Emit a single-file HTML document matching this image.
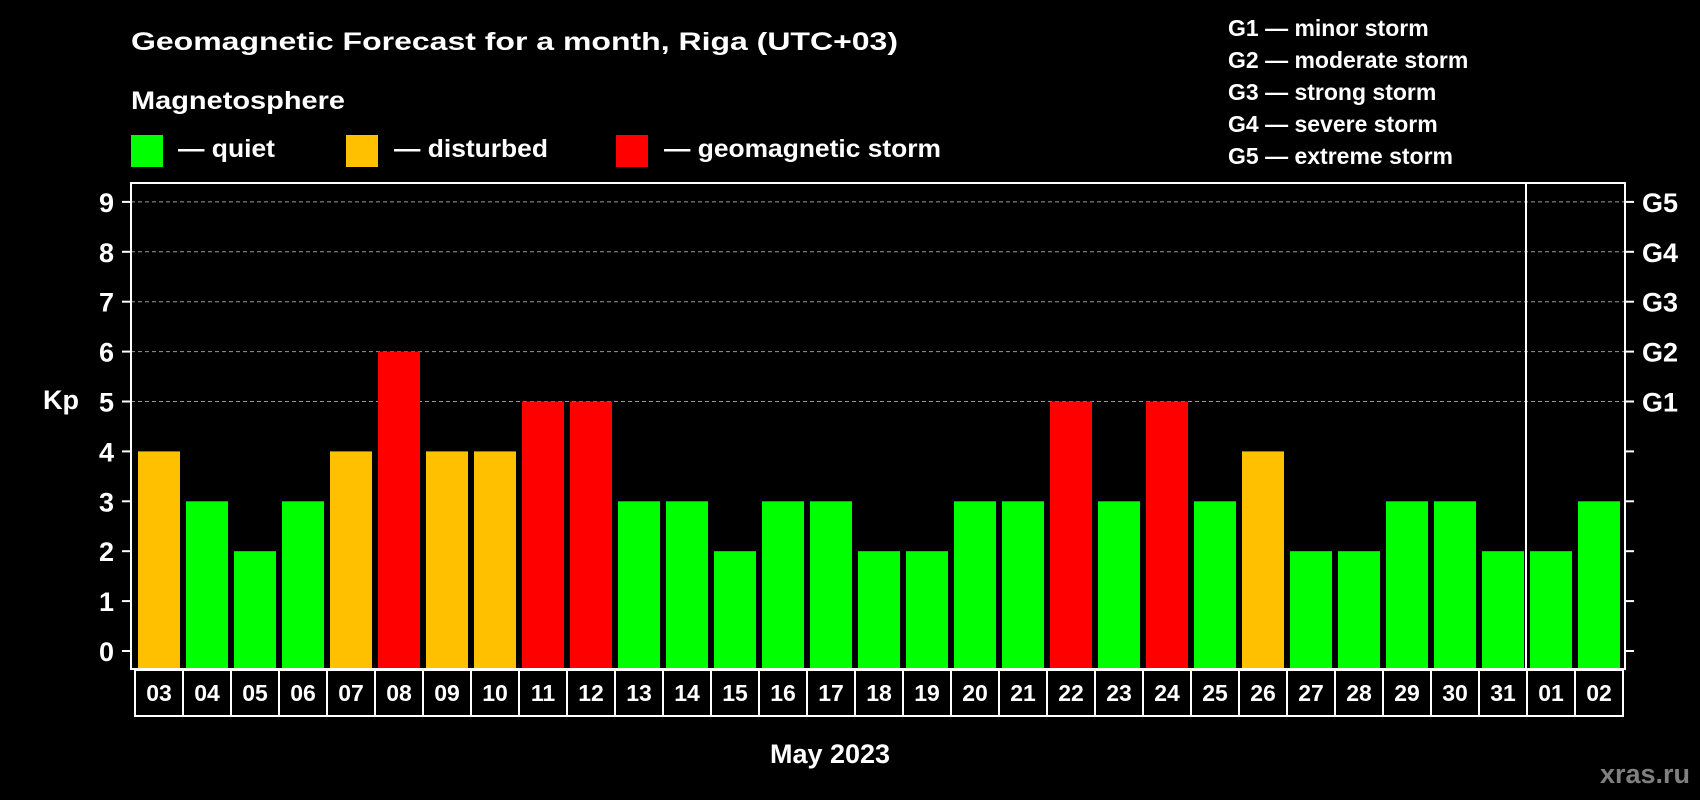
<!DOCTYPE html>
<html><head><meta charset="utf-8"><style>
html,body{margin:0;padding:0;background:#000;}
svg{display:block;font-family:"Liberation Sans",sans-serif;font-weight:bold;}
</style></head><body>
<svg id="chart" width="1700" height="800" viewBox="0 0 1700 800" xmlns="http://www.w3.org/2000/svg">
<rect width="1700" height="800" fill="#000"/>
<text x="131" y="50" fill="#fff" font-size="25" font-family="Liberation Sans Narrow, Liberation Sans, sans-serif" textLength="767" lengthAdjust="spacingAndGlyphs">Geomagnetic Forecast for a month, Riga (UTC+03)</text>
<text x="131" y="109" fill="#fff" font-size="25" font-family="Liberation Sans Narrow, Liberation Sans, sans-serif" textLength="214" lengthAdjust="spacingAndGlyphs">Magnetosphere</text>
<g>
<rect x="131" y="135" width="32" height="32" fill="#00ff00"/>
<text x="178" y="157" fill="#fff" font-size="25" font-family="Liberation Sans Narrow, Liberation Sans, sans-serif" textLength="97" lengthAdjust="spacingAndGlyphs">— quiet</text></g>
<g>
<rect x="346" y="135" width="32" height="32" fill="#ffc000"/>
<text x="394" y="157" fill="#fff" font-size="25" font-family="Liberation Sans Narrow, Liberation Sans, sans-serif" textLength="154" lengthAdjust="spacingAndGlyphs">— disturbed</text></g>
<g>
<rect x="616" y="135" width="32" height="32" fill="#ff0000"/>
<text x="664" y="157" fill="#fff" font-size="25" font-family="Liberation Sans Narrow, Liberation Sans, sans-serif" textLength="277" lengthAdjust="spacingAndGlyphs">— geomagnetic storm</text></g>
<g fill="#fff" font-size="23">
<text x="1228" y="36">G1 — minor storm</text>
<text x="1228" y="68">G2 — moderate storm</text>
<text x="1228" y="100">G3 — strong storm</text>
<text x="1228" y="132">G4 — severe storm</text>
<text x="1228" y="164">G5 — extreme storm</text>
</g>
<g id="grid"></g><g id="bars"></g><g id="axes"></g>
<text x="43" y="409" fill="#fff" font-size="27">Kp</text>
<text x="830" y="763" fill="#fff" font-size="27" text-anchor="middle">May 2023</text>
<text x="1690" y="783" fill="#808080" font-size="27" text-anchor="end">xras.ru</text>
</svg>
<script>
const days=["03","04","05","06","07","08","09","10","11","12","13","14","15","16","17","18","19","20","21","22","23","24","25","26","27","28","29","30","31","01","02"];
const kp=[4,3,2,3,4,6,4,4,5,5,3,3,2,3,3,2,2,3,3,5,3,5,3,4,2,2,3,3,2,2,3];
const yTicks=[0,1,2,3,4,5,6,7,8,9];
const gLabels=["G1","G2","G3","G4","G5"];
const gLevels=[5,6,7,8,9];
const NS="http://www.w3.org/2000/svg";
const L=131,R=1625,T=183,B=669,X0=134,STEP=48;
const y=v=>651-49.9*v;
const x=i=>X0+i*STEP;
function mk(tag,attrs,parent,text){const e=document.createElementNS(NS,tag);for(const k in attrs)e.setAttribute(k,attrs[k]);if(text!==undefined)e.textContent=text;parent.appendChild(e);return e;}
const grid=document.getElementById('grid'),bars=document.getElementById('bars'),axes=document.getElementById('axes');
gLevels.forEach((g,i)=>{
 const ln=mk('line',{x1:L,x2:R,y1:y(g),y2:y(g),stroke:'#999','stroke-width':1,'stroke-dasharray':'4,3'},grid);
 
 
 const t=mk('text',{x:1642,y:y(g)+10,fill:'#fff','font-size':27},axes,gLabels[i]);
 
 
});
kp.forEach((v,i)=>{
 const c=v>=5?'#ff0000':(v>=4?'#ffc000':'#00ff00');
 const r=mk('rect',{x:x(i)+4,y:y(v),width:42,height:B-y(v),fill:c},bars);
 
 
 const b=mk('rect',{x:x(i)+1,y:B+1,width:STEP,height:46,fill:'none',stroke:'#fff','stroke-width':2},axes);
 
 
 const t=mk('text',{x:x(i)+1+STEP/2,y:B+32,fill:'#fff','font-size':23,'text-anchor':'middle'},axes,days[i]);
 
 
});
const fr=mk('rect',{x:L,y:T,width:R-L,height:B-T,fill:'none',stroke:'#fff','stroke-width':2},axes);


const sep=mk('line',{x1:x(29),x2:x(29),y1:T,y2:B,stroke:'#fff','stroke-width':2},axes);


yTicks.forEach(v=>{
 mk('line',{x1:122,x2:L,y1:y(v),y2:y(v),stroke:'#fff','stroke-width':2},axes);
 mk('line',{x1:R,x2:1634,y1:y(v),y2:y(v),stroke:'#fff','stroke-width':2},axes);
 const t=mk('text',{x:114,y:y(v)+10,fill:'#fff','font-size':27,'text-anchor':'end'},axes,String(v));
 
 
});
</script>
</body></html>
